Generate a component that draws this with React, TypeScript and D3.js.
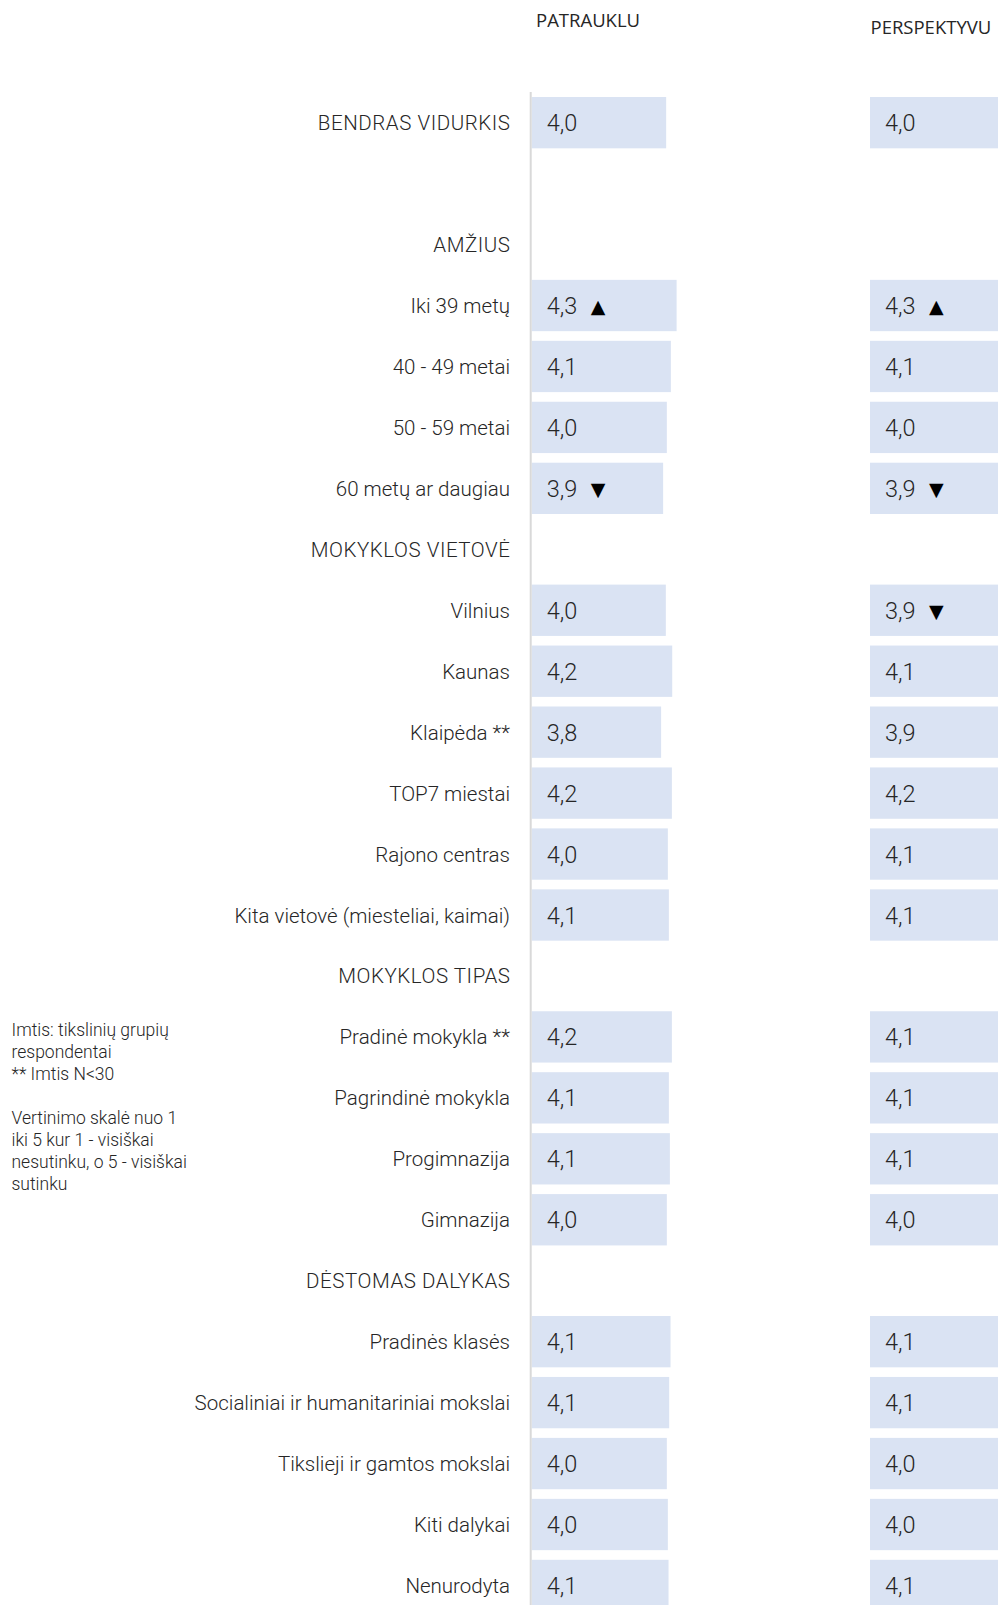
import React from 'react';
import * as d3 from 'd3';

const rowLabels = [
  'BENDRAS VIDURKIS', '', 'AMŽIUS', 'Iki 39 metų', '40 - 49 metai', '50 - 59 metai', '60 metų ar daugiau',
  'MOKYKLOS VIETOVĖ', 'Vilnius', 'Kaunas', 'Klaipėda **', 'TOP7 miestai', 'Rajono centras',
  'Kita vietovė (miesteliai, kaimai)', 'MOKYKLOS TIPAS', 'Pradinė mokykla **', 'Pagrindinė mokykla',
  'Progimnazija', 'Gimnazija', 'DĖSTOMAS DALYKAS', 'Pradinės klasės',
  'Socialiniai ir humanitariniai mokslai', 'Tikslieji ir gamtos mokslai', 'Kiti dalykai', 'Nenurodyta',
];

// null = section header / empty row
const patrauklu = [3.99, null, null, 4.30, 4.13, 4.01, 3.90, null, 3.98, 4.17, 3.84, 4.16, 4.04, 4.07,
  null, 4.16, 4.07, 4.10, 4.01, null, 4.12, 4.08, 4.01, 4.04, 4.06];
const perspektyvu = [4.0, null, null, 4.3, 4.1, 4.0, 3.9, null, 3.9, 4.1, 3.9, 4.2, 4.1, 4.1,
  null, 4.1, 4.1, 4.1, 4.0, null, 4.1, 4.1, 4.0, 4.0, 4.1];

// significance markers
const patraukluSig = ['', '', '', '▲', '', '', '▼', '', '', '', '', '', '', '', '', '', '', '', '', '', '', '', '', '', ''];
const perspektyvuSig = ['', '', '', '▲', '', '', '▼', '', '▼', '', '', '', '', '', '', '', '', '', '', '', '', '', '', '', ''];

const panelTitles = ['PATRAUKLU', 'PERSPEKTYVU'];

const noteLines = [
  'Imtis: tikslinių grupių', 'respondentai', '** Imtis N<30', '',
  'Vertinimo skalė nuo 1', 'iki 5 kur 1 - visiškai', 'nesutinku, o 5 - visiškai', 'sutinku',
];

const W = 998;
const H = 1605;
const txt = '#262626';
const barColor = '#dae3f3';
const font = 'Roboto, "Liberation Sans", Arial, sans-serif';

const fmt = (v: number) => d3.format('.1f')(v).replace('.', ',');

export default function App() {
  const step = 60.95;
  const pad = 0.158;
  const y = d3.scaleBand<number>()
    .domain(d3.range(rowLabels.length))
    .range([97, 97 + step * (rowLabels.length - pad)])
    .paddingInner(pad)
    .paddingOuter(0);

  const x = d3.scaleLinear().domain([0, 5]).range([0, 168.5]);

  const panels = [
    { x0: 531.7, values: patrauklu, sig: patraukluSig, title: panelTitles[0], titleX: 536, titleY: 27 },
    { x0: 870, values: perspektyvu, sig: perspektyvuSig, title: panelTitles[1], titleX: 870.5, titleY: 34 },
  ];

  return (
    <svg width={W} height={H} style={{ position: 'absolute', left: 0, top: 0, display: 'block' }}
      fontFamily={font}>
      <rect width={W} height={H} fill="#fff" />

      {panels.map((p) => (
        <text key={p.title} x={p.titleX} y={p.titleY} fontFamily='"Open Sans", sans-serif'
          fontSize={18.5} fill={txt}>{p.title}</text>
      ))}

      {rowLabels.map((label, i) => {
        const caps = label !== '' && label === label.toUpperCase() && /[A-ZĖŽ]{3}/.test(label);
        return (
          <text key={'l' + i} x={caps ? 510.5 : 510} y={(y(i) ?? 0) + y.bandwidth() / 2 + 7.5}
            textAnchor="end" fontSize={20.5} fontWeight={300} fill={txt}
            letterSpacing={caps ? 0.55 : 0}>{label}</text>
        );
      })}

      {panels.map((p) => (
        <g key={'p' + p.title} transform={`translate(${p.x0},0)`}>
          {p.values.map((v, i) => v == null ? null : (
            <g key={i} transform={`translate(0,${y(i)})`}>
              <rect width={x(v)} height={y.bandwidth()} fill={barColor} />
              <text x={15} y={y.bandwidth() / 2 + 8.5} fontSize={23.5} fontWeight={300} fill={txt}>
                {fmt(v)}
              </text>
              {p.sig[i] ? (
                <text x={59} y={y.bandwidth() / 2 + 7.5} fontFamily='"DejaVu Sans", sans-serif'
                  fontSize={19} fill="#000">{p.sig[i]}</text>
              ) : null}
            </g>
          ))}
        </g>
      ))}

      <line x1={530.7} x2={530.7} y1={92} y2={H} stroke="#d9d9d9" strokeWidth={2} />

      <text fontSize={17.5} fontWeight={300} fill={txt}>
        {noteLines.map((l, i) => (
          <tspan key={i} x={11.5} y={1036 + i * 22}>{l}</tspan>
        ))}
      </text>
    </svg>
  );
}
